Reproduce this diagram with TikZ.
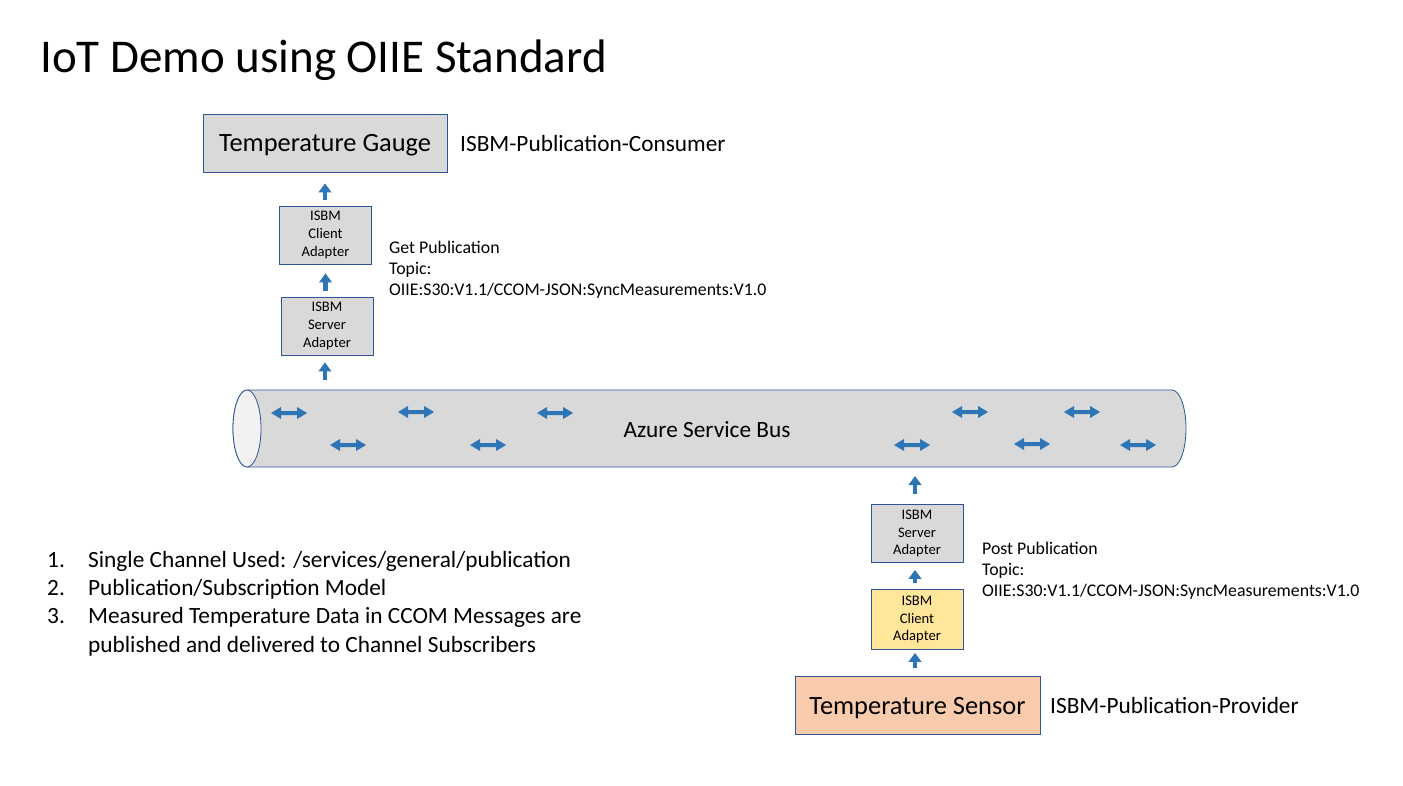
\documentclass[tikz,border=0pt]{standalone}
\usepackage{fontspec}
\setmainfont{Carlito}
\usetikzlibrary{arrows.meta}
\definecolor{boxgray}{HTML}{D9D9D9}
\definecolor{boxline}{HTML}{2F5597}
\definecolor{arrblue}{HTML}{2E75B6}
\definecolor{capgray}{HTML}{F2F2F2}
\definecolor{yel}{HTML}{FFE699}
\definecolor{peach}{HTML}{F8CBAD}
\newcommand{\dblarr}[2]{%
  \fill[arrblue] (#1-18,#2) -- (#1-8,#2-6) -- (#1-8,#2-2) -- (#1+8,#2-2) -- (#1+8,#2-6)
    -- (#1+18,#2) -- (#1+8,#2+6) -- (#1+8,#2+2) -- (#1-8,#2+2) -- (#1-8,#2+6) -- cycle;}
\tikzset{
  bigbox/.style={draw=boxline, line width=0.8pt, minimum width=244pt, minimum height=58pt, inner sep=0pt,
     text depth=0pt, font=\fontsize{26.4}{30}\selectfont},
  smallbox/.style={draw=boxline, line width=0.8pt, fill=boxgray, minimum width=92pt, minimum height=58pt,
     inner sep=0pt, align=center, font=\fontsize{14.6}{17.8}\selectfont},
  upar/.style={draw=arrblue, line width=4.5pt, -{Triangle[length=9pt,width=12.5pt]}},
  lbl/.style={anchor=west, inner sep=0pt, font=\fontsize{23.3}{28}\selectfont},
  topic/.style={anchor=base west, inner sep=0pt, font=\fontsize{17.8}{21}\selectfont},
  item/.style={anchor=base west, inner sep=0pt, font=\fontsize{23.3}{28.4}\selectfont},
}
\begin{document}
\begin{tikzpicture}[x=1pt,y=-1pt]
\useasboundingbox (0,0) rectangle (1403,786);
\fill[white] (0,0) rectangle (1403,786);
% title
\node[anchor=base west, inner sep=0pt, font=\fontsize{47}{52}\selectfont] (title) at (40,73) {IoT Demo using OIIE Standard};
% top stack
\node[bigbox, fill=boxgray] (gauge) at (325,143) {Temperature Gauge};
\node[lbl] (consumer) at (460,143) {ISBM-Publication-Consumer};
\node[smallbox] (cliT) at (325.5,235) {ISBM\\Client\\Adapter};
\node[smallbox] (srvT) at (327,326) {ISBM\\Server\\Adapter};
\node[topic] (get1) at (389,254) {Get Publication};
\node[topic] (get2) at (389,275) {Topic:};
\node[topic] (get3) at (389,296) {OIIE:S30:V1.1/CCOM-JSON:SyncMeasurements:V1.0};
% bus
\draw[boxline, line width=0.8pt, fill=boxgray] (247,390) -- (1172,390)
  arc[start angle=-90, end angle=90, x radius=14, y radius=38.5] -- (247,467)
  arc[start angle=90, end angle=270, x radius=14, y radius=38.5] -- cycle;
\draw[boxline, line width=0.8pt, fill=capgray] (247,428.5) ellipse[x radius=14, y radius=38.5];
\node[inner sep=0pt, font=\fontsize{23.3}{28}\selectfont] (bus) at (707,430) {Azure Service Bus};
\coordinate (busT) at (325,390);
\coordinate (busB) at (915,467);
\dblarr{289}{413}\dblarr{416}{412}\dblarr{555}{413}\dblarr{970}{412}\dblarr{1082}{412}
\dblarr{348}{445}\dblarr{488}{445}\dblarr{912}{445}\dblarr{1032}{444}\dblarr{1138}{445}
% bottom stack
\node[smallbox] (srvB) at (917,533.5) {ISBM\\Server\\Adapter};
\node[smallbox, fill=yel, minimum height=60pt] (cliB) at (917,619.5) {ISBM\\Client\\Adapter};
\node[bigbox, fill=peach, minimum width=245pt] (sensor) at (917.5,705.5) {Temperature Sensor};
\node[lbl] (provider) at (1050,705.5) {ISBM-Publication-Provider};
\node[topic] (post1) at (982,554) {Post Publication};
\node[topic] (post2) at (982,575) {Topic:};
\node[topic] (post3) at (982,596) {OIIE:S30:V1.1/CCOM-JSON:SyncMeasurements:V1.0};
% arrows
\draw[upar, shorten <=6pt, shorten >=11pt] (cliT.north -| gauge.south) -- (gauge.south);
\draw[upar, shorten <=6pt, shorten >=9pt] (srvT.north -| cliT.south) -- (cliT.south);
\draw[upar, shorten <=10pt, shorten >=7pt] (busT) -- (srvT.south -| busT);
\draw[upar, shorten <=10pt, shorten >=9pt] (srvB.north -| busB) -- (busB);
\draw[upar, shorten <=6pt, shorten >=7pt] (cliB.north -| busB) -- (srvB.south -| busB);
\draw[upar, shorten <=8pt, shorten >=3pt] (sensor.north -| busB) -- (cliB.south -| busB);
% list
\node[item] (n1) at (47,567) {1.};
\node[item] (n2) at (47,595) {2.};
\node[item] (n3) at (47,623.5) {3.};
\node[item] (t1) at (88,567) {Single Channel Used: /services/general/publication};
\node[item] (t2) at (88,595) {Publication/Subscription Model};
\node[item] (t3) at (88,623.5) {Measured Temperature Data in CCOM Messages are};
\node[item] (t4) at (88,652) {published and delivered to Channel Subscribers};
\end{tikzpicture}
\end{document}
